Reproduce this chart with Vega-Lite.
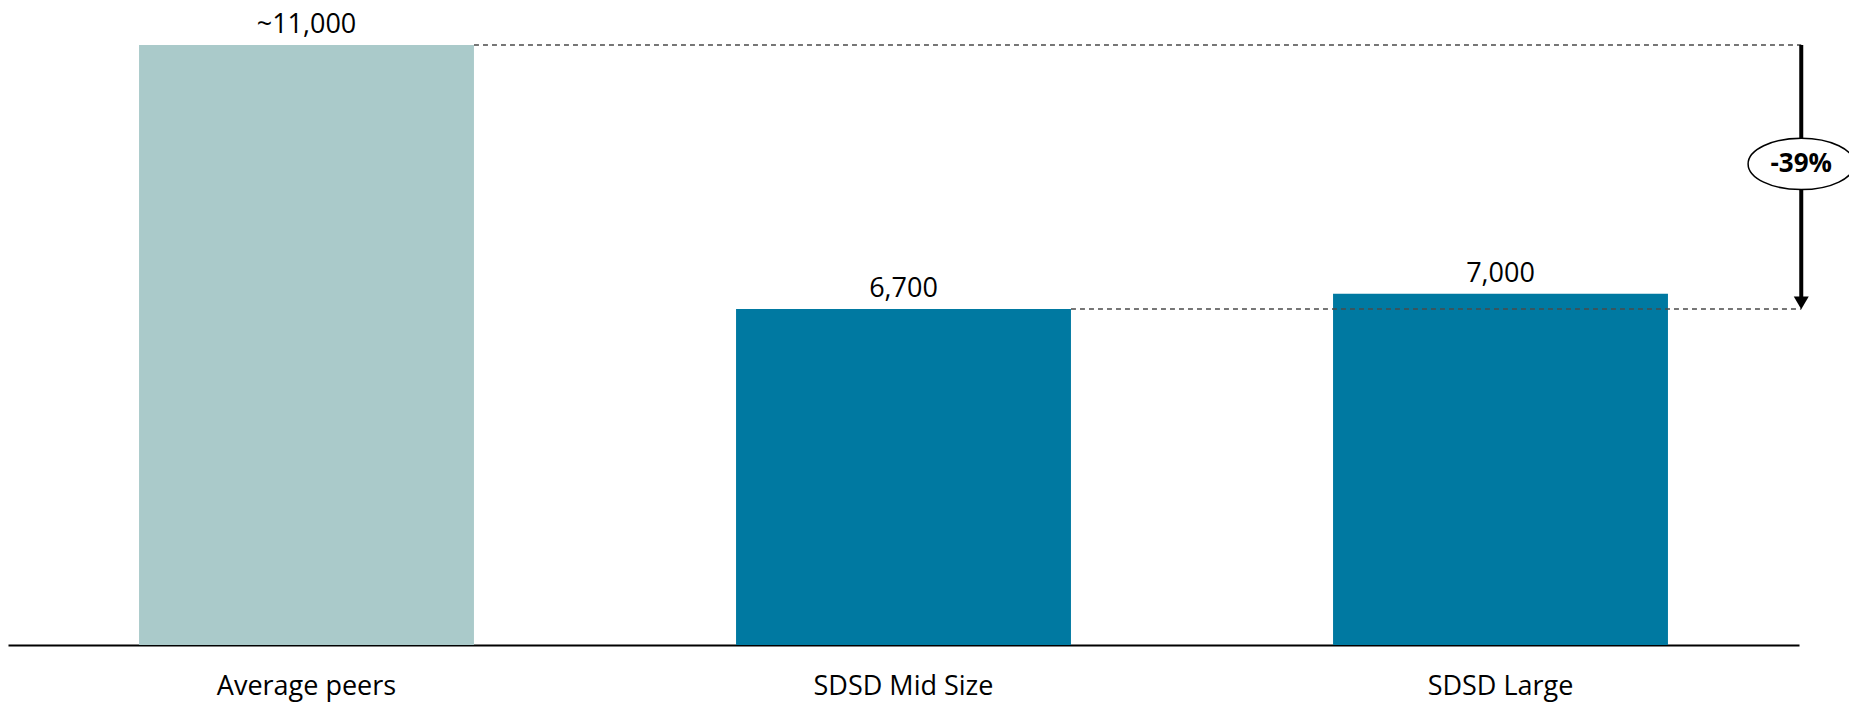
{
  "$schema": "https://vega.github.io/schema/vega-lite/v6.json",
  "width": 1791,
  "height": 600,
  "autosize": {"type": "none"},
  "padding": {"left": 8, "top": 45, "right": 50, "bottom": 58},
  "config": {"view": {"stroke": null}, "font": "Open Sans"},
  "datasets": {
    "bars": [
      {"category": "Average peers", "value": 11960, "label": "~11,000", "group": "Peers"},
      {"category": "SDSD Mid Size", "value": 6700, "label": "6,700", "group": "SDSD"},
      {"category": "SDSD Large", "value": 7000, "label": "7,000", "group": "SDSD"}
    ],
    "refs": [
      {"from": "Average peers", "to": "SDSD Large", "value": 11960},
      {"from": "SDSD Mid Size", "to": "SDSD Large", "value": 6700}
    ],
    "change": [
      {"at": "SDSD Large", "top": 11960, "bottom": 6700, "mid": 9590, "text": "-39%"}
    ]
  },
  "layer": [
    {
      "data": {"name": "bars"},
      "mark": {"type": "bar"},
      "encoding": {
        "x": {
          "field": "category",
          "type": "nominal",
          "scale": {"domain": ["Average peers", "SDSD Mid Size", "SDSD Large"], "paddingInner": 0.439, "paddingOuter": 0.2195},
          "axis": {
            "title": null,
            "domainColor": "black",
            "domainWidth": 2,
            "ticks": false,
            "grid": false,
            "labelFontSize": 27,
            "labelColor": "black",
            "labelFont": "Open Sans",
            "labelBaseline": "alphabetic",
            "labelPadding": 49,
            "labelAngle": 0
          }
        },
        "y": {"field": "value", "type": "quantitative", "scale": {"domain": [0, 11960], "nice": false}, "axis": null},
        "color": {"field": "group", "type": "nominal", "scale": {"domain": ["Peers", "SDSD"], "range": ["#AACACA", "#0079A1"]}, "legend": null}
      }
    },
    {
      "data": {"name": "bars"},
      "mark": {"type": "text", "baseline": "alphabetic", "align": "center", "dy": -12, "fontSize": 27, "color": "black", "font": "Open Sans"},
      "encoding": {
        "x": {"field": "category", "type": "nominal"},
        "y": {"field": "value", "type": "quantitative"},
        "text": {"field": "label"}
      }
    },
    {
      "data": {"name": "refs"},
      "mark": {"type": "rule", "strokeDash": [5, 4], "color": "#4a4a4a", "strokeWidth": 1.5},
      "encoding": {
        "x": {"field": "from", "type": "nominal", "bandPosition": 1},
        "x2": {"field": "to", "bandPosition": 1.398},
        "y": {"field": "value", "type": "quantitative"}
      }
    },
    {
      "data": {"name": "change"},
      "mark": {"type": "rule", "color": "black", "strokeWidth": 4, "y2Offset": -12},
      "encoding": {
        "x": {"field": "at", "type": "nominal", "bandPosition": 1.398},
        "y": {"field": "top", "type": "quantitative"},
        "y2": {"field": "bottom"}
      }
    },
    {
      "data": {"name": "change"},
      "mark": {"type": "point", "shape": "triangle-down", "size": 225, "filled": true, "color": "black", "opacity": 1, "yOffset": -6},
      "encoding": {
        "x": {"field": "at", "type": "nominal", "bandPosition": 1.398},
        "y": {"field": "bottom", "type": "quantitative"}
      }
    },
    {
      "data": {"name": "change"},
      "mark": {"type": "point", "shape": "M-1,0A1,0.484,0,1,1,1,0A1,0.484,0,1,1,-1,0Z", "size": 11300, "fill": "white", "stroke": "black", "strokeWidth": 1.5, "opacity": 1, "fillOpacity": 1},
      "encoding": {
        "x": {"field": "at", "type": "nominal", "bandPosition": 1.398},
        "y": {"field": "mid", "type": "quantitative"}
      }
    },
    {
      "data": {"name": "change"},
      "mark": {"type": "text", "fontWeight": "bold", "fontSize": 26, "align": "center", "baseline": "middle", "color": "black", "font": "Open Sans"},
      "encoding": {
        "x": {"field": "at", "type": "nominal", "bandPosition": 1.398},
        "y": {"field": "mid", "type": "quantitative"},
        "text": {"field": "text"}
      }
    }
  ]
}
